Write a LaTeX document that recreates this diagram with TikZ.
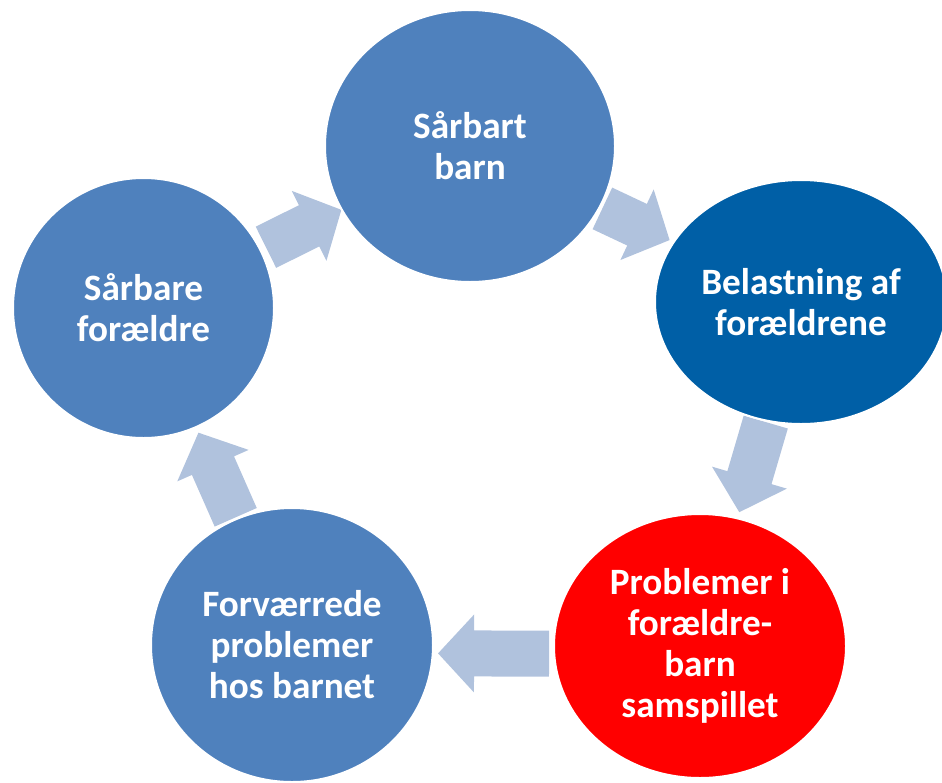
\documentclass[tikz,border=0pt]{standalone}
\usepackage{fontspec}
\setmainfont{Carlito}
\usetikzlibrary{calc,shapes.geometric,backgrounds}
\definecolor{cblue}{HTML}{4F81BD}
\definecolor{cdark}{HTML}{005FA6}
\definecolor{cred}{HTML}{FF0000}
\definecolor{carrow}{HTML}{B0C2DD}
\newcommand\cycarrow[4]{%
  \coordinate (ta) at ($(#1)!#3!(#2)$);
  \coordinate (tb) at ($(#1)!#4!(#2)$);
  \coordinate (hc) at ($(tb)!36pt!(ta)$);
  \fill[arrowfill] ($(ta)!23pt!90:(tb)$) -- ($(hc)!23pt!90:(tb)$) -- ($(hc)!39pt!90:(tb)$) -- (tb)
    -- ($(hc)!39pt!-90:(tb)$) -- ($(hc)!23pt!-90:(tb)$) -- ($(ta)!23pt!-90:(tb)$) -- cycle;
}
\begin{document}
\begin{tikzpicture}[x=1pt,y=-1pt,
  circ/.style={ellipse, inner sep=0pt, draw=white, line width=2pt, text=white,
    font=\bfseries\fontsize{37.2}{41}\selectfont, align=center},
  arrowfill/.style={fill=carrow}]
\useasboundingbox (0,0) rectangle (942,782);
\node[circ, fill=cblue, minimum width=290pt, minimum height=272pt] (barn) at (470,146) {Sårbart\\barn};
\node[circ, fill=cdark, minimum width=292pt, minimum height=244pt] (belast) at (801,302) {Belastning af\\forældrene};
\node[circ, fill=cred, minimum width=292pt, minimum height=264pt] (prob) at (700,646) {Problemer i\\forældre-\\barn\\samspillet};
\node[circ, fill=cblue, minimum width=282pt, minimum height=274pt] (forv) at (292,645) {Forværrede\\problemer\\hos barnet};
\node[circ, fill=cblue, minimum width=261pt, minimum height=260pt] (foraeld) at (143.5,308) {Sårbare\\forældre};
\coordinate (p4a) at ([yshift=-8pt]prob.center);
\coordinate (p4b) at ([yshift=-8pt]forv.center);
\begin{scope}[on background layer]
\cycarrow{foraeld.center}{barn.center}{0.375}{0.606}
\cycarrow{barn.center}{belast.center}{0.40}{0.603}
\cycarrow{belast.center}{prob.center}{0.349}{0.611}
\cycarrow{p4a}{p4b}{0.37}{0.642}
\cycarrow{forv.center}{foraeld.center}{0.379}{0.63}
\end{scope}
\end{tikzpicture}
\end{document}
